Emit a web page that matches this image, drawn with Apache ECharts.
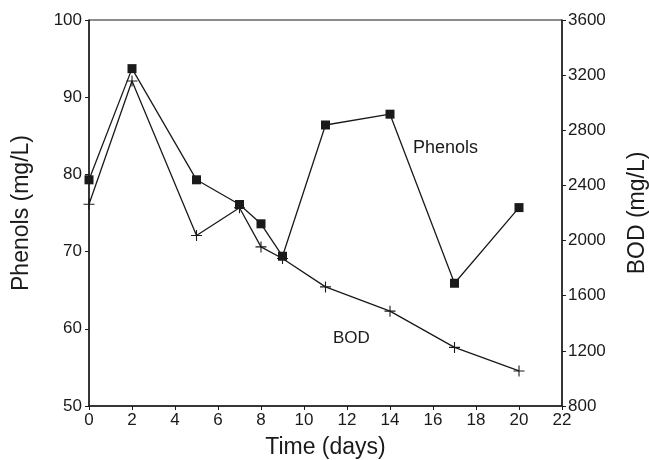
<!DOCTYPE html>
<html>
<head>
<meta charset="UTF-8">
<title>Phenols / BOD</title>
<script src="https://cdn.jsdelivr.net/npm/echarts@6/dist/echarts.min.js"></script>
<style>
  html, body { margin: 0; padding: 0; background: #fff; }
  #main { width: 649px; height: 460px; }
</style>
</head>
<body>
<div id="main"></div>
<script>
// time in days
var days = [0, 2, 5, 7, 8, 9, 11, 14, 17, 20];
// phenols (mg/L), left axis
var phenols = [79.3, 93.7, 79.3, 76.1, 73.6, 69.4, 86.4, 87.8, 65.9, 75.7];
// BOD (mg/L), right axis
var bod = [2263, 3157, 2037, 2238, 1954, 1870, 1664, 1488, 1225, 1054];

var ink = '#1a1a1a';
var font = 'Liberation Sans, Arial, Helvetica, sans-serif';
var plus = 'path://M4.5,0h1v4.5h4.5v1h-4.5v4.5h-1v-4.5h-4.5v-1h4.5z';

function pairs(xs, ys) {
  return xs.map(function (x, i) { return [x, ys[i]]; });
}

var chart = echarts.init(document.getElementById('main'));

chart.setOption({
  animation: false,
  backgroundColor: '#fff',
  grid: {
    left: 89, right: 87, top: 20, bottom: 54,
    outerBoundsMode: 'none', containLabel: false,
    show: true, borderColor: ink, borderWidth: 1
  },
  xAxis: {
    type: 'value', min: 0, max: 22, interval: 2,
    name: 'Time (days)', nameLocation: 'middle', nameGap: 30,
    nameTextStyle: { fontFamily: font, fontSize: 23, color: ink },
    axisLine: { lineStyle: { color: ink, width: 1.5 } },
    axisTick: { inside: false, length: 4, lineStyle: { color: ink } },
    axisLabel: { fontFamily: font, fontSize: 17, color: ink, margin: 6 },
    splitLine: { show: false }
  },
  yAxis: [{
    type: 'value', min: 50, max: 100, interval: 10, position: 'left',
    name: 'Phenols (mg/L)', nameLocation: 'middle', nameGap: 56, nameRotate: 90,
    nameTextStyle: { fontFamily: font, fontSize: 23, color: ink },
    axisLine: { show: true, lineStyle: { color: ink, width: 1.5 } },
    axisTick: { show: true, length: 4, lineStyle: { color: ink } },
    axisLabel: { fontFamily: font, fontSize: 17, color: ink, margin: 7 },
    splitLine: { show: false }
  }, {
    type: 'value', min: 800, max: 3600, interval: 400, position: 'right',
    name: 'BOD (mg/L)', nameLocation: 'middle', nameGap: 64, nameRotate: 90,
    nameTextStyle: { fontFamily: font, fontSize: 23, color: ink },
    axisLine: { show: true, lineStyle: { color: ink, width: 1.5 } },
    axisTick: { show: true, length: 4, lineStyle: { color: ink } },
    axisLabel: {
      fontFamily: font, fontSize: 17, color: ink, margin: 6,
      formatter: function (v) { return String(v); }
    },
    splitLine: { show: false }
  }],
  series: [{
    name: 'Phenols', type: 'line', yAxisIndex: 0,
    data: pairs(days, phenols),
    symbol: 'rect', symbolSize: 9,
    itemStyle: { color: ink },
    lineStyle: { color: ink, width: 1.3 },
    z: 3
  }, {
    name: 'BOD', type: 'line', yAxisIndex: 1,
    data: pairs(days, bod),
    symbol: plus, symbolSize: 11,
    itemStyle: { color: ink },
    lineStyle: { color: ink, width: 1.3 },
    z: 2
  }],
  graphic: [{
    type: 'text', left: 413, top: 139,
    style: { text: 'Phenols', font: '18px ' + font, fill: ink }
  }, {
    type: 'text', left: 333, top: 330,
    style: { text: 'BOD', font: '17px ' + font, fill: ink }
  }]
});
</script>
</body>
</html>
